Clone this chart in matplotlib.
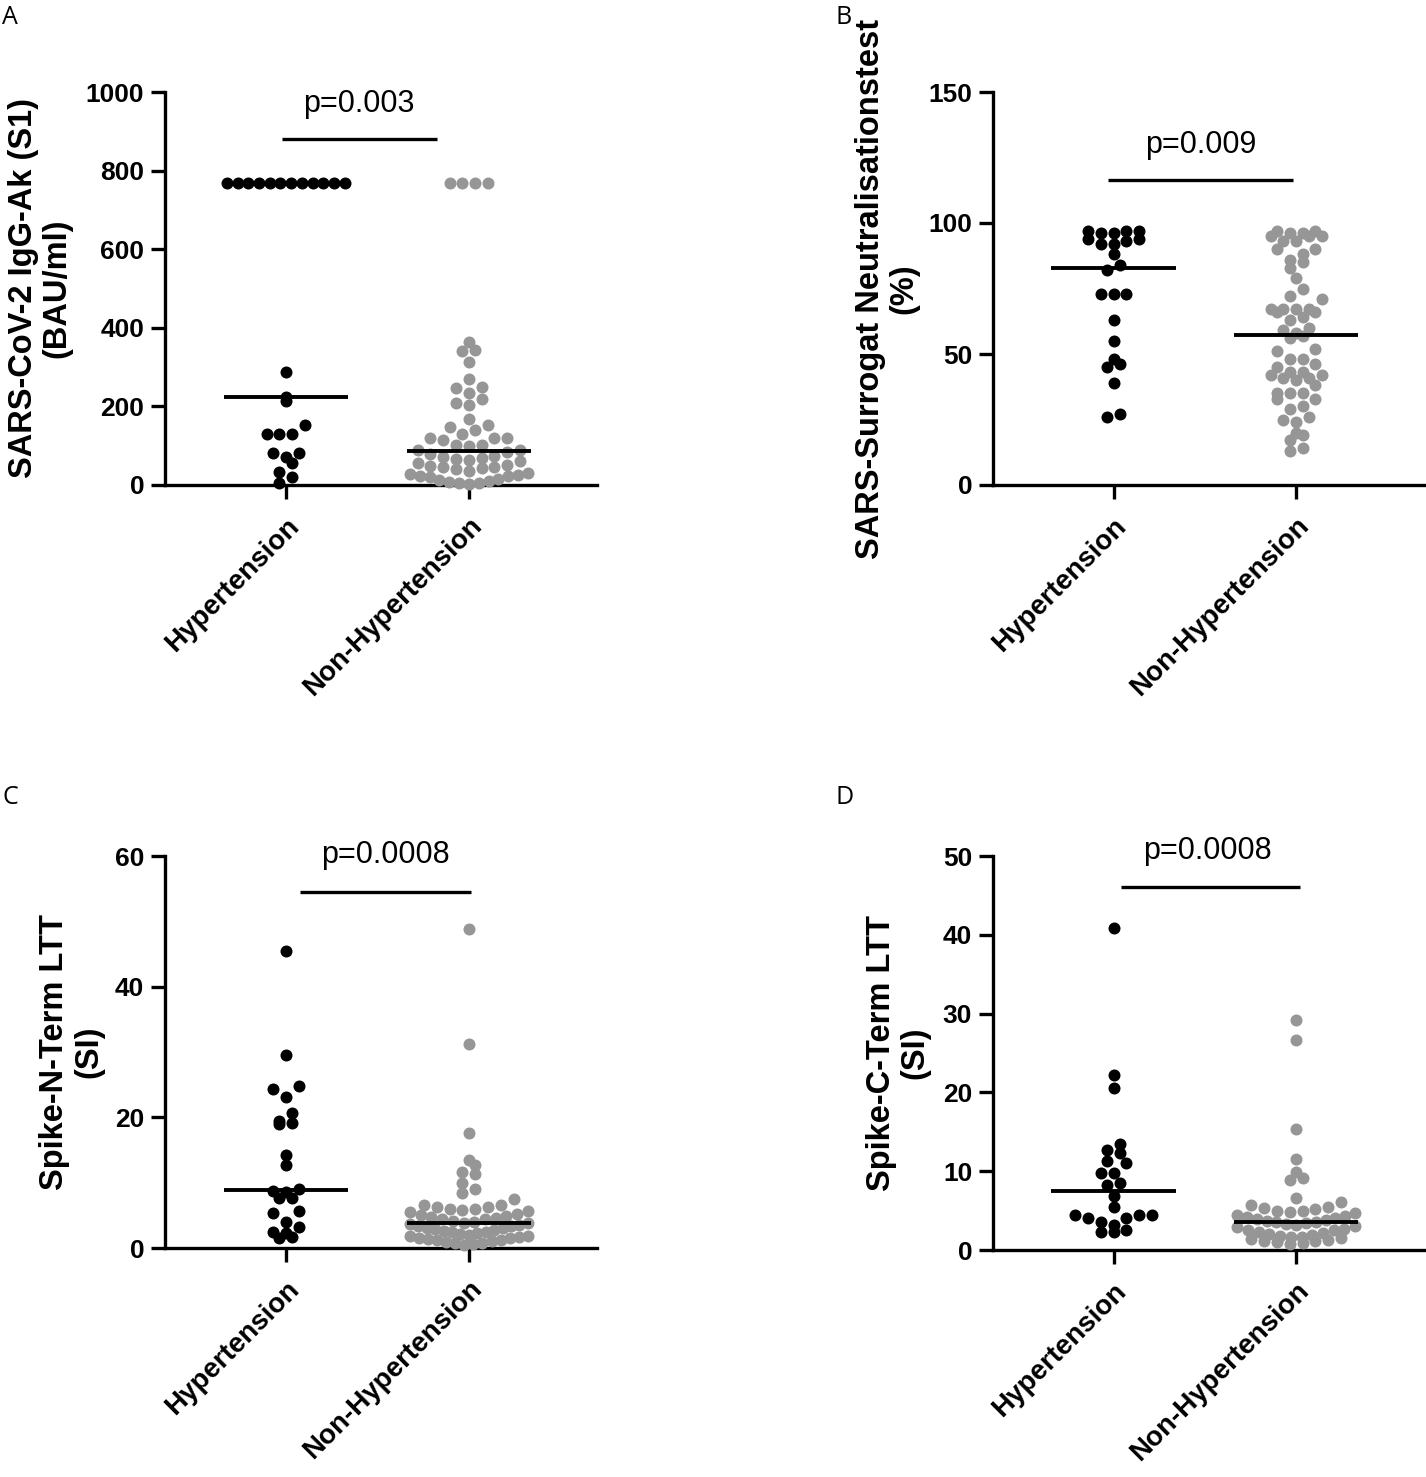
import numpy as np
import matplotlib
matplotlib.use("Agg")
import matplotlib.pyplot as plt

# ---------------- data ----------------
groups = ["Hypertension", "Non-Hypertension"]

hyp_A = [768, 768, 768, 768, 768, 768, 768, 768, 768, 768, 768, 768,
         288, 225, 215, 153, 131, 131, 130, 82, 81, 72, 57, 34, 21, 6]
non_A = [768, 768, 768, 768, 365, 343, 342, 314, 269, 250, 246, 233, 218, 208,
         204, 167, 153, 148, 140, 131, 119, 119, 119, 115, 102, 102, 100, 89, 88,
         84, 80, 75, 70, 68, 66, 64, 60, 55, 50, 48, 46, 45, 44, 40, 35, 30, 28,
         25, 24, 22, 20, 15, 12, 10, 8, 6, 5, 3]
med_A = [223, 86]

hyp_B = [94, 93, 92, 96, 97, 97, 97, 96, 92, 94, 88, 84, 82, 73, 73, 73, 63, 55,
         48, 46, 45, 39, 27, 26]
non_B = [93, 95, 96, 97, 96, 95, 97, 95, 93, 88, 90, 90, 85, 86, 83, 79, 75, 71,
         72, 66, 66, 67, 67, 67, 67, 63, 64, 60, 59, 58, 57, 56, 51, 52, 48, 48,
         46, 45, 41, 42, 42, 43, 43, 41, 40, 38, 35, 35, 35, 33, 33, 30, 29, 24,
         26, 25, 20, 19, 17, 14, 13]
med_B = [83, 57.3]

hyp_C = [45.5, 29.5, 24.8, 24.4, 23.1, 20.7, 19.5, 19.1, 19.0, 14.2, 12.7, 8.8,
         8.5, 9.0, 7.6, 7.6, 5.7, 5.4, 4.0, 3.2, 2.5, 2.3, 1.7, 1.5]
non_C = [48.9, 31.2, 17.6, 13.5, 12.7, 11.7, 11.4, 9.9, 9.0, 8.4, 7.5, 6.6, 6.6,
         6.3, 6.3, 6.0, 6.0, 5.8, 5.6, 5.5, 5.2, 5.0, 4.9, 4.8, 4.6, 4.5, 4.4,
         4.2, 4.0, 3.9, 3.8, 3.6, 3.5, 3.4, 3.3, 3.1, 3.0, 2.9, 2.8, 2.6, 2.5,
         2.4, 2.3, 2.1, 2.0, 1.9, 1.8, 1.7, 1.6, 1.5, 1.4, 1.3, 1.2, 1.0, 0.9,
         0.8, 0.7, 0.6, 0.5]
med_C = [8.9, 3.9]

hyp_D = [40.9, 22.2, 20.6, 13.5, 12.7, 12.3, 11.3, 11.0, 9.8, 9.8, 8.5, 8.2, 6.9,
         5.5, 4.1, 4.4, 4.4, 4.4, 4.1, 3.5, 3.2, 2.6, 2.3, 2.3]
non_D = [29.2, 26.6, 15.3, 11.6, 9.9, 9.1, 8.9, 6.6, 6.1, 5.7, 5.5, 5.3, 5.2, 5.0,
         4.9, 4.8, 4.7, 4.5, 4.3, 4.2, 4.0, 3.9, 3.8, 3.7, 3.6, 3.5, 3.4, 3.3,
         3.2, 3.0, 2.9, 2.7, 2.6, 2.5, 2.3, 2.2, 2.0, 1.9, 1.8, 1.7, 1.6, 1.5,
         1.4, 1.3, 1.2, 1.1, 1.0, 0.9, 0.8]
med_D = [7.5, 3.6]

p_labels = ["p=0.003", "p=0.009", "p=0.0008", "p=0.0008"]
ylabels = ["SARS-CoV-2 IgG-Ak (S1)\n(BAU/ml)",
           "SARS-Surrogat Neutralisationstest\n(%)",
           "Spike-N-Term LTT\n(SI)",
           "Spike-C-Term LTT\n(SI)"]
yticks = [[0, 200, 400, 600, 800, 1000], [0, 50, 100, 150],
          [0, 20, 40, 60], [0, 10, 20, 30, 40, 50]]
panel_letters = ["A", "B", "C", "D"]

# ---------------- layout ----------------
W, H = 1426, 1477
FONT = "Liberation Sans"
plt.rcParams["font.family"] = [FONT, "DejaVu Sans"]

fig = plt.figure(figsize=(W / 100, H / 100), dpi=100)

def frac_rect(l, r, t, b):
    return [l / W, 1 - b / H, (r - l) / W, (b - t) / H]

rects = [frac_rect(165, 597, 92, 485), frac_rect(993, 1424, 92, 485),
         frac_rect(165, 597, 856, 1248), frac_rect(993, 1424, 856, 1250)]
ylab_x = [-0.29, -0.245, -0.216, -0.219]
bracket = [(-0.02, 0.825, 880), (-0.03, 0.984, 116.4),
           (0.08, 1.01, 54.5), (0.04, 1.02, 46.1)]
ptext = [(0.40, 950), (0.476, 126.8), (0.546, 59.0), (0.514, 49.6)]
letter_pos = [(2, 5), (835, 5), (3, 785), (835, 785)]

datasets = [(hyp_A, non_A, med_A), (hyp_B, non_B, med_B),
            (hyp_C, non_C, med_C), (hyp_D, non_D, med_D)]
colors = ["#000000", "#969696"]
DIAM = 12.0  # px
SIZE = (DIAM * 72 / 100) ** 2
BIN_H = 12.5     # px, height of a row bin
STEP = 12.8      # px, horizontal spacing in a row
MAX_W = 118.0    # px, maximal row width


def row_scatter(ax, xc, vals):
    """GraphPad-like column scatter: values binned into rows, spread sideways."""
    vals = np.asarray(vals, float)
    pts = ax.transData.transform(np.column_stack([np.full(len(vals), xc), vals]))
    ys = pts[:, 1]
    x0 = pts[0, 0]
    y0 = ax.transData.transform((xc, ax.get_ylim()[0]))[1]
    bins = np.floor((ys - y0) / BIN_H).astype(int)
    xs = np.zeros(len(vals))
    for b in np.unique(bins):
        idx = np.where(bins == b)[0]
        idx = idx[np.argsort(ys[idx], kind="stable")]
        n = len(idx)
        step = STEP if n < 2 else min(STEP, MAX_W / (n - 1))
        offs = (np.arange(n) - (n - 1) / 2) * step
        order = np.argsort(np.abs(offs), kind="stable")
        for j, i in enumerate(idx):
            xs[i] = offs[order[j]] if n > 2 else offs[j]
    inv = ax.transData.inverted()
    return inv.transform(np.column_stack([x0 + xs, ys]))[:, 0]


for k in range(4):
    ax = fig.add_axes(rects[k])
    yt = yticks[k]
    ax.set_xlim(-0.66, 1.70)
    ax.set_ylim(yt[0], yt[-1])
    for s in ["top", "right"]:
        ax.spines[s].set_visible(False)
    for s in ["left", "bottom"]:
        ax.spines[s].set_linewidth(2.4)
    ax.set_yticks(yt)
    ax.set_yticklabels([str(v) for v in yt], fontsize=19, fontweight="bold")
    ax.set_xticks([0, 1])
    ax.set_xticklabels(groups, fontsize=20, fontweight="bold", rotation=45,
                       ha="right", va="top", rotation_mode="anchor")
    ax.tick_params(axis="both", direction="out", length=10, width=2.4)
    ax.tick_params(axis="y", pad=5)
    ax.tick_params(axis="x", pad=10)

    hyp, non, med = datasets[k]
    for g, vals in enumerate([hyp, non]):
        xs = row_scatter(ax, g, vals)
        ax.scatter(xs, vals, s=SIZE, color=colors[g], linewidths=0,
                   zorder=3, clip_on=False)
        ax.plot([g - 0.34, g + 0.34], [med[g], med[g]], color="black",
                lw=2.8, zorder=4, solid_capstyle="butt")

    x1, x2, yb = bracket[k]
    ax.plot([x1, x2], [yb, yb], color="black", lw=2.4, clip_on=False,
            solid_capstyle="butt")
    tx, ty = ptext[k]
    ax.text(tx, ty, p_labels[k], fontsize=22, ha="center", va="baseline",
            clip_on=False)

    ax.text(ylab_x[k], 0.5, ylabels[k], transform=ax.transAxes, rotation=90,
            ha="center", va="center", multialignment="center",
            fontsize=23.5, fontweight="bold", linespacing=1.1)

    lx, ly = letter_pos[k]
    fig.text(lx / W, 1 - ly / H, panel_letters[k], fontsize=18,
             family=["Open Sans", "DejaVu Sans"], ha="left", va="top")

fig.savefig("out.png", dpi=100)
